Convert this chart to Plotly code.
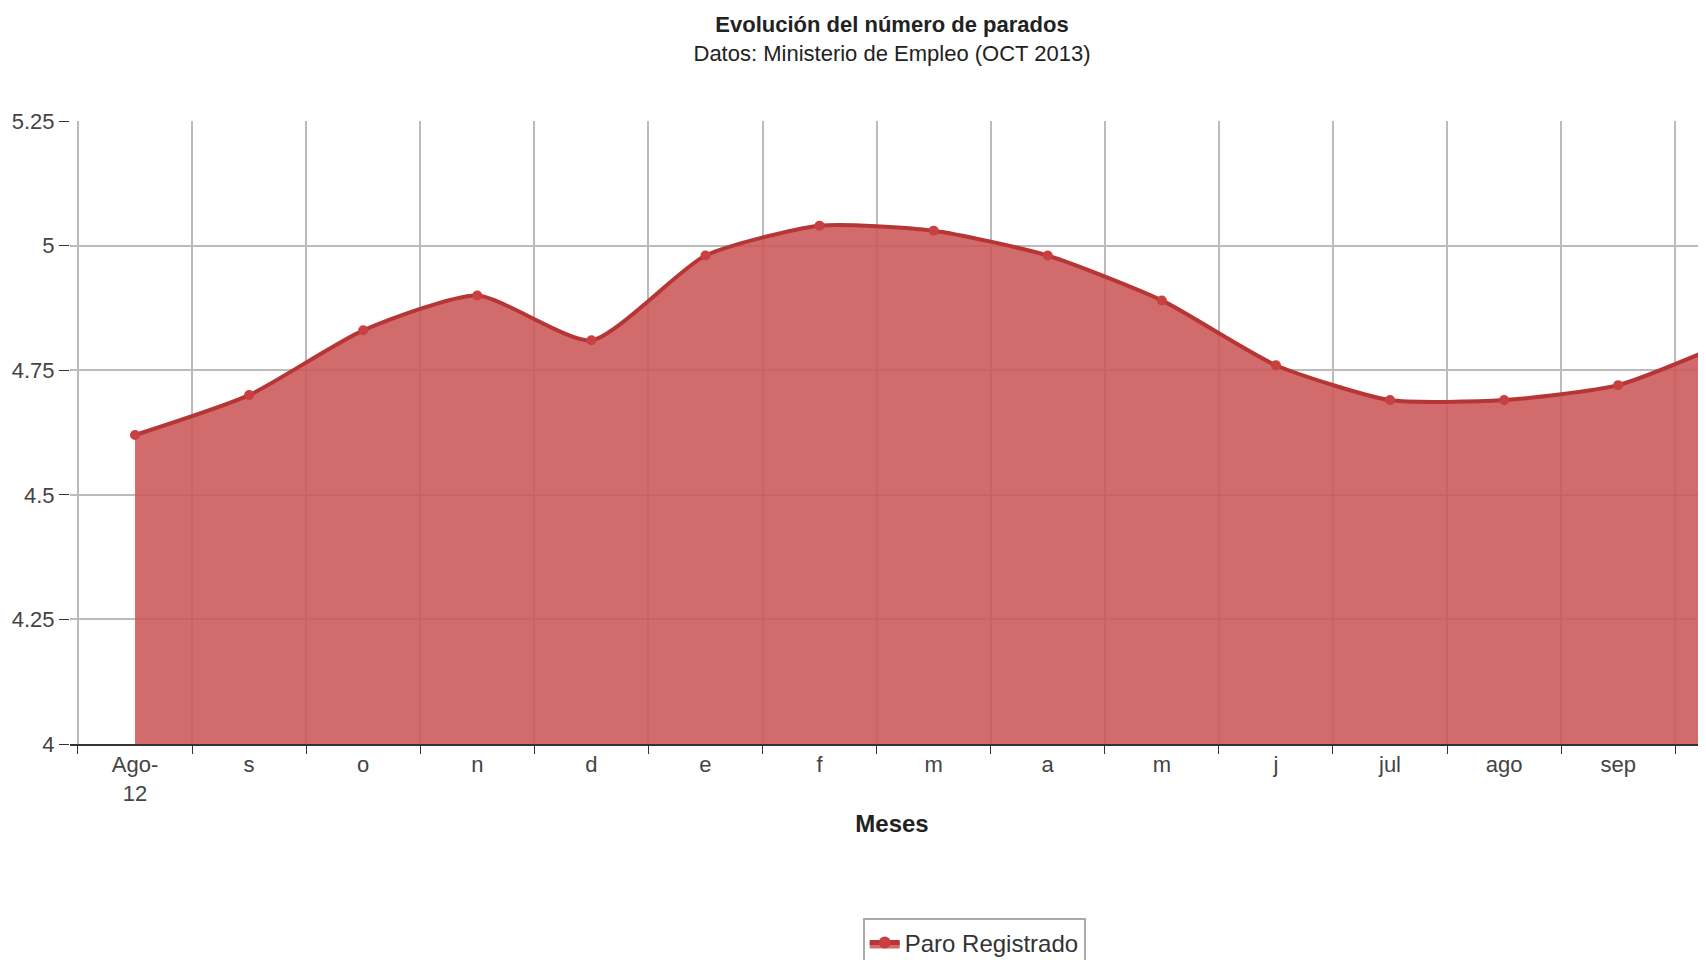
import plotly.graph_objects as go

months = ["Ago-<br>12", "s", "o", "n", "d", "e", "f", "m", "a", "m", "j", "jul", "ago", "sep", "Oct-<br>13"]
parados = [4.62, 4.70, 4.83, 4.90, 4.81, 4.98, 5.04, 5.03, 4.98, 4.89, 4.76, 4.69, 4.69, 4.72, 4.81]
y_ticks = [4, 4.25, 4.5, 4.75, 5, 5.25]
y_text = ["4", "4.25", "4.5", "4.75", "5", "5.25"]

x = list(range(len(months)))

fig = go.Figure()
fig.add_trace(
    go.Scatter(
        x=x,
        y=parados,
        name="Paro Registrado",
        mode="lines+markers",
        line=dict(color="#b83535", width=4, shape="spline", smoothing=0.6),
        marker=dict(color="#c84040", size=10),
        fill="tozeroy",
        fillcolor="rgba(204,88,88,0.88)",
    )
)
fig.update_layout(
    template="plotly_white",
    width=1706,
    height=960,
    paper_bgcolor="white",
    plot_bgcolor="white",
    font=dict(family="Liberation Sans, Arial", size=22, color="#444"),
    title=dict(
        text="<b>Evolución del número de parados</b><br><span style='font-size:22px'>Datos: Ministerio de Empleo (OCT 2013)</span>",
        x=0.5,
        xref="paper",
        y=0.975,
        yanchor="top",
        font=dict(size=22, color="#222"),
    ),
    margin=dict(l=62, r=0, t=113, b=222),
    showlegend=True,
    legend=dict(
        orientation="h",
        x=0.55,
        xanchor="center",
        y=-0.28,
        yanchor="top",
        bordercolor="#aaa",
        borderwidth=2,
        font=dict(size=24, color="#333"),
        itemsizing="constant",
    ),
)
fig.update_xaxes(
    range=[-0.57, 13.84],
    tickmode="array",
    tickvals=x,
    ticktext=months,
    showgrid=False,
    ticks="",
    showline=True,
    linecolor="#333",
    linewidth=2,
    minor=dict(tick0=0.5, dtick=1, showgrid=True, gridcolor="#bbb", gridwidth=1.5,
               ticks="outside", ticklen=8, tickcolor="#333"),
    title=dict(text="<b>Meses</b>", font=dict(size=24, color="#222"), standoff=10),
    tickfont=dict(size=22, color="#444"),
    zeroline=False,
)
fig.update_yaxes(
    range=[4, 5.25],
    tickmode="array",
    tickvals=y_ticks,
    ticktext=y_text,
    showgrid=True,
    gridcolor="#bbb",
    gridwidth=1.5,
    ticks="outside",
    ticklen=10,
    tickcolor="#333",
    tickfont=dict(size=22, color="#444"),
    zeroline=False,
)
fig.write_html("out.html")
